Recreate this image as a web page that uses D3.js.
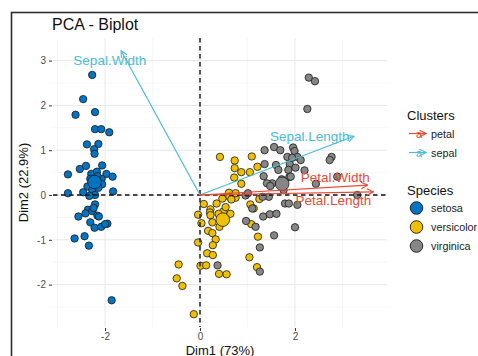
<!DOCTYPE html>
<html>
<head>
<meta charset="utf-8">
<script src="https://cdn.jsdelivr.net/npm/d3@7"></script>
<style>
  html, body { margin: 0; padding: 0; background: #fff; }
  svg { display: block; font-family: "Liberation Sans", Arial, Helvetica, sans-serif; }
</style>
</head>
<body>
<svg id="chart" width="478" height="356"></svg>
<script>
// Individuals on the first two principal components, by species
const setosaX = [-2.27,-2.46,-2.62,-2.21,-2.21,-2.08,-1.91,-2.38,-2.14,-2.23,-2.22,-2.78,-2.53,-2.40,-2.06,-2.29,-2.17,-1.97,-1.84,-2.31,-2.07,-2.37,-2.46,-2.27,-2.21,-1.83,-2.06,-2.78,-2.21,-2.36,-2.27,-2.56,-2.41,-2.16,-2.13,-2.31,-2.22,-2.08,-1.95,-2.00,-2.64,-2.43,-2.34,-1.86,-2.20,-2.26,-2.16,-2.33,-2.14,-2.24];
const setosaY = [2.68,2.14,1.79,1.85,1.47,1.47,1.40,1.13,1.14,1.02,0.92,0.46,0.58,0.65,0.66,0.47,0.52,0.47,0.41,0.36,0.36,0.19,0.06,0.11,0.00,0.08,0.24,0.04,-0.21,-0.33,-0.36,-0.48,-0.41,-0.46,-0.48,-0.61,-0.73,-0.71,-0.64,-0.65,-0.97,-0.92,-1.13,-2.35,0.29,0.25,0.42,-0.02,0.16,-0.29];

const versicolorX = [0.42,0.73,1.09,0.73,0.87,1.05,1.21,0.72,0.87,0.61,0.75,0.62,0.66,0.47,0.35,0.08,0.22,0.21,-0.04,0.64,0.49,0.22,0.26,0.03,0.17,0.26,0.33,0.27,-0.04,0.15,0.27,-0.45,0.01,0.13,0.40,0.56,-0.49,-0.37,-0.13,1.04,1.06,1.13,1.25,1.08,1.22,1.20,0.54,0.39,0.75,0.41];
const versicolorY = [0.85,0.77,0.86,0.60,0.51,0.51,0.63,0.39,0.25,0.05,-0.06,-0.04,-0.10,-0.08,-0.19,-0.20,-0.32,-0.39,-0.44,-0.42,-0.37,-0.45,-0.61,-0.63,-0.80,-0.85,-0.99,-1.12,-1.06,-1.30,-1.34,-1.55,-1.58,-1.57,-1.76,-1.77,-1.86,-2.03,-2.66,-1.39,-0.21,-0.30,-0.09,-0.65,-0.93,-1.61,-0.27,-0.42,0.04,-0.71];

const virginicaX = [2.29,2.42,2.26,1.36,1.56,1.69,1.96,1.99,1.84,2.05,2.77,2.73,1.36,1.60,1.89,1.86,2.01,2.20,1.34,1.88,2.89,1.72,1.52,1.41,2.44,3.31,1.45,0.96,1.79,1.87,1.33,1.47,1.61,0.97,1.17,2.00,1.56,1.26,0.37,1.26,1.10,1.01,1.94,1.76,1.91,1.48,2.12,1.32,2.05,1.65];
const virginicaY = [2.62,2.54,1.92,1.00,1.07,1.00,1.06,0.98,0.85,0.85,0.85,0.78,0.69,0.67,0.69,0.56,0.61,0.55,0.42,0.40,0.41,0.35,0.26,0.26,0.25,0.00,-0.04,-0.01,-0.19,-0.19,-0.48,-0.43,-0.42,-0.58,-0.71,-0.72,-0.90,-1.17,-1.57,-1.71,-0.30,0.04,0.83,0.11,0.41,0.20,0.78,-0.04,-0.22,0.56];

// Group mean points
const speciesNames = ["setosa", "versicolor", "virginica"];
const meanX = [-2.22, 0.48, 1.73];
const meanY = [0.29, -0.55, 0.25];
const speciesColors = ["#0073C2", "#EFC000", "#868686"];

// Variable arrows and their labels
const varNames = ["Sepal.Length", "Sepal.Width", "Petal.Length", "Petal.Width"];
const varX = [3.24, -1.66, 3.65, 3.53];
const varY = [1.31, 3.22, 0.07, 0.22];
const varGroup = ["sepal", "sepal", "petal", "petal"];
const labelX = [2.31, -1.90, 2.81, 2.85];
const labelY = [1.31, 3.01, -0.12, 0.40];
const clusterNames = ["petal", "sepal"];
const clusterColors = ["#E64B35", "#4DBBD5"];

// Axis ticks
const xTicks = [-2, 0, 2];
const yTicks = [-2, -1, 0, 1, 2, 3];
const xMinor = [-3, -1, 1, 3];
const yMinor = [-2.5, -1.5, -0.5, 0.5, 1.5, 2.5];

const svg = d3.select("#chart");
const panel = { left: 53, right: 387, top: 38, bottom: 327 };

const x = d3.scaleLinear().domain([-3.095, 3.937]).range([panel.left, panel.right]);
const y = d3.scaleLinear().domain([-2.946, 3.504]).range([panel.bottom, panel.top]);
const fill = d3.scaleOrdinal().domain(speciesNames).range(speciesColors);
const stroke = d3.scaleOrdinal().domain(clusterNames).range(clusterColors);

// Outer frame
svg.append("rect")
  .attr("x", 11.5).attr("y", 12.5).attr("width", 520).attr("height", 420)
  .attr("fill", "none").attr("stroke", "#2e2e2e").attr("stroke-width", 1.6);

// Title
svg.append("text").attr("x", 52).attr("y", 29.5)
  .attr("font-size", 16).attr("fill", "#111").text("PCA - Biplot");

// Grid
const grid = svg.append("g");
grid.selectAll(".xmin").data(xMinor).join("line")
  .attr("x1", d => x(d)).attr("x2", d => x(d)).attr("y1", panel.top).attr("y2", panel.bottom)
  .attr("stroke", "#f2f2f2").attr("stroke-width", 0.6);
grid.selectAll(".ymin").data(yMinor).join("line")
  .attr("x1", panel.left).attr("x2", panel.right).attr("y1", d => y(d)).attr("y2", d => y(d))
  .attr("stroke", "#f2f2f2").attr("stroke-width", 0.6);
grid.selectAll(".xmaj").data(xTicks).join("line")
  .attr("x1", d => x(d)).attr("x2", d => x(d)).attr("y1", panel.top).attr("y2", panel.bottom)
  .attr("stroke", "#e8e8e8").attr("stroke-width", 1);
grid.selectAll(".ymaj").data(yTicks).join("line")
  .attr("x1", panel.left).attr("x2", panel.right).attr("y1", d => y(d)).attr("y2", d => y(d))
  .attr("stroke", "#e8e8e8").attr("stroke-width", 1);

// Axes
const yAxis = svg.append("g").attr("transform", `translate(${panel.left - 1},0)`)
  .call(d3.axisLeft(y).tickValues(yTicks).tickSize(3).tickPadding(3).tickFormat(d3.format("d")));
const xAxis = svg.append("g").attr("transform", `translate(0,${panel.bottom + 1})`)
  .call(d3.axisBottom(x).tickValues(xTicks).tickSize(3).tickPadding(2).tickFormat(d3.format("d")));
[xAxis, yAxis].forEach(a => {
  a.select(".domain").remove();
  a.selectAll(".tick line").attr("stroke", "#333").attr("stroke-width", 1);
  a.selectAll(".tick text").attr("fill", "#4d4d4d").attr("font-size", 10)
    .attr("font-family", "Liberation Sans, Arial, sans-serif");
});
xAxis.selectAll(".tick text").text(d => d < 0 ? "-" + Math.abs(d) : d);
yAxis.selectAll(".tick text").text(d => d < 0 ? "-" + Math.abs(d) : d);

// Axis titles
svg.append("text").attr("x", (panel.left + panel.right) / 2).attr("y", 354.5)
  .attr("text-anchor", "middle").attr("font-size", 13).attr("fill", "#111").text("Dim1 (73%)");
svg.append("text")
  .attr("transform", `translate(27.5,${(panel.top + panel.bottom) / 2}) rotate(-90)`)
  .attr("text-anchor", "middle").attr("font-size", 13).attr("fill", "#111").text("Dim2 (22.9%)");

// Individuals
const individuals = [];
[[setosaX, setosaY, "setosa"], [versicolorX, versicolorY, "versicolor"], [virginicaX, virginicaY, "virginica"]]
  .forEach(([xs, ys, s]) => xs.forEach((v, i) => individuals.push({ x: v, y: ys[i], s })));

svg.append("g").selectAll("circle").data(individuals).join("circle")
  .attr("cx", d => x(d.x)).attr("cy", d => y(d.y)).attr("r", 3.7)
  .attr("fill", d => fill(d.s)).attr("stroke", "#1a1a1a").attr("stroke-width", 0.8);

// Group means
svg.append("g").selectAll("circle").data(speciesNames).join("circle")
  .attr("cx", (d, i) => x(meanX[i])).attr("cy", (d, i) => y(meanY[i])).attr("r", 6.8)
  .attr("fill", d => fill(d)).attr("stroke", "#1a1a1a").attr("stroke-width", 0.8);

// Reference lines through the origin
svg.append("line").attr("x1", panel.left).attr("x2", panel.right).attr("y1", y(0)).attr("y2", y(0))
  .attr("stroke", "#111").attr("stroke-width", 1.4).attr("stroke-dasharray", "4.5,3.5");
svg.append("line").attr("x1", x(0)).attr("x2", x(0)).attr("y1", panel.top).attr("y2", panel.bottom)
  .attr("stroke", "#111").attr("stroke-width", 1.4).attr("stroke-dasharray", "4.5,3.5");

// Arrowheads
const defs = svg.append("defs");
clusterNames.forEach(c => {
  defs.append("marker").attr("id", "head-" + c)
    .attr("viewBox", "0 0 10 10").attr("refX", 9).attr("refY", 5)
    .attr("markerWidth", 8).attr("markerHeight", 8).attr("markerUnits", "userSpaceOnUse")
    .attr("orient", "auto")
    .append("path").attr("d", "M1,1 L9,5 L1,9").attr("fill", "none")
    .attr("stroke", stroke(c)).attr("stroke-width", 1.4);
});

// Variable arrows
svg.append("g").selectAll("line").data(varNames).join("line")
  .attr("x1", x(0)).attr("y1", y(0))
  .attr("x2", (d, i) => x(varX[i])).attr("y2", (d, i) => y(varY[i]))
  .attr("stroke", (d, i) => stroke(varGroup[i])).attr("stroke-width", 1.2)
  .attr("marker-end", (d, i) => `url(#head-${varGroup[i]})`);

svg.append("g").selectAll("text").data(varNames).join("text")
  .attr("x", (d, i) => x(labelX[i])).attr("y", (d, i) => y(labelY[i]))
  .attr("text-anchor", "middle").attr("dominant-baseline", "central")
  .attr("font-size", 13.5).attr("fill", (d, i) => stroke(varGroup[i])).text(d => d);

// Legends
const leg = svg.append("g");
leg.append("text").attr("x", 407).attr("y", 119.5).attr("font-size", 13).attr("fill", "#111").text("Clusters");
clusterNames.forEach((c, i) => {
  const cy = 133.5 + i * 19;
  leg.append("line").attr("x1", 409).attr("x2", 426).attr("y1", cy).attr("y2", cy)
    .attr("stroke", stroke(c)).attr("stroke-width", 1.2).attr("marker-end", `url(#head-${c})`);
  leg.append("text").attr("x", 419).attr("y", cy).attr("text-anchor", "middle")
    .attr("dominant-baseline", "central").attr("font-size", 11).attr("fill", stroke(c)).text("a");
  leg.append("text").attr("x", 431).attr("y", cy).attr("dominant-baseline", "central")
    .attr("font-size", 10.8).attr("fill", "#222").text(c);
});

leg.append("text").attr("x", 407).attr("y", 194.5).attr("font-size", 13).attr("fill", "#111").text("Species");
speciesNames.forEach((s, i) => {
  const cy = 208 + i * 19;
  leg.append("circle").attr("cx", 416.5).attr("cy", cy).attr("r", 6.3)
    .attr("fill", fill(s)).attr("stroke", "#1a1a1a").attr("stroke-width", 0.9);
  leg.append("text").attr("x", 431).attr("y", cy).attr("dominant-baseline", "central")
    .attr("font-size", 10.8).attr("fill", "#222").text(s);
});
</script>
</body>
</html>
